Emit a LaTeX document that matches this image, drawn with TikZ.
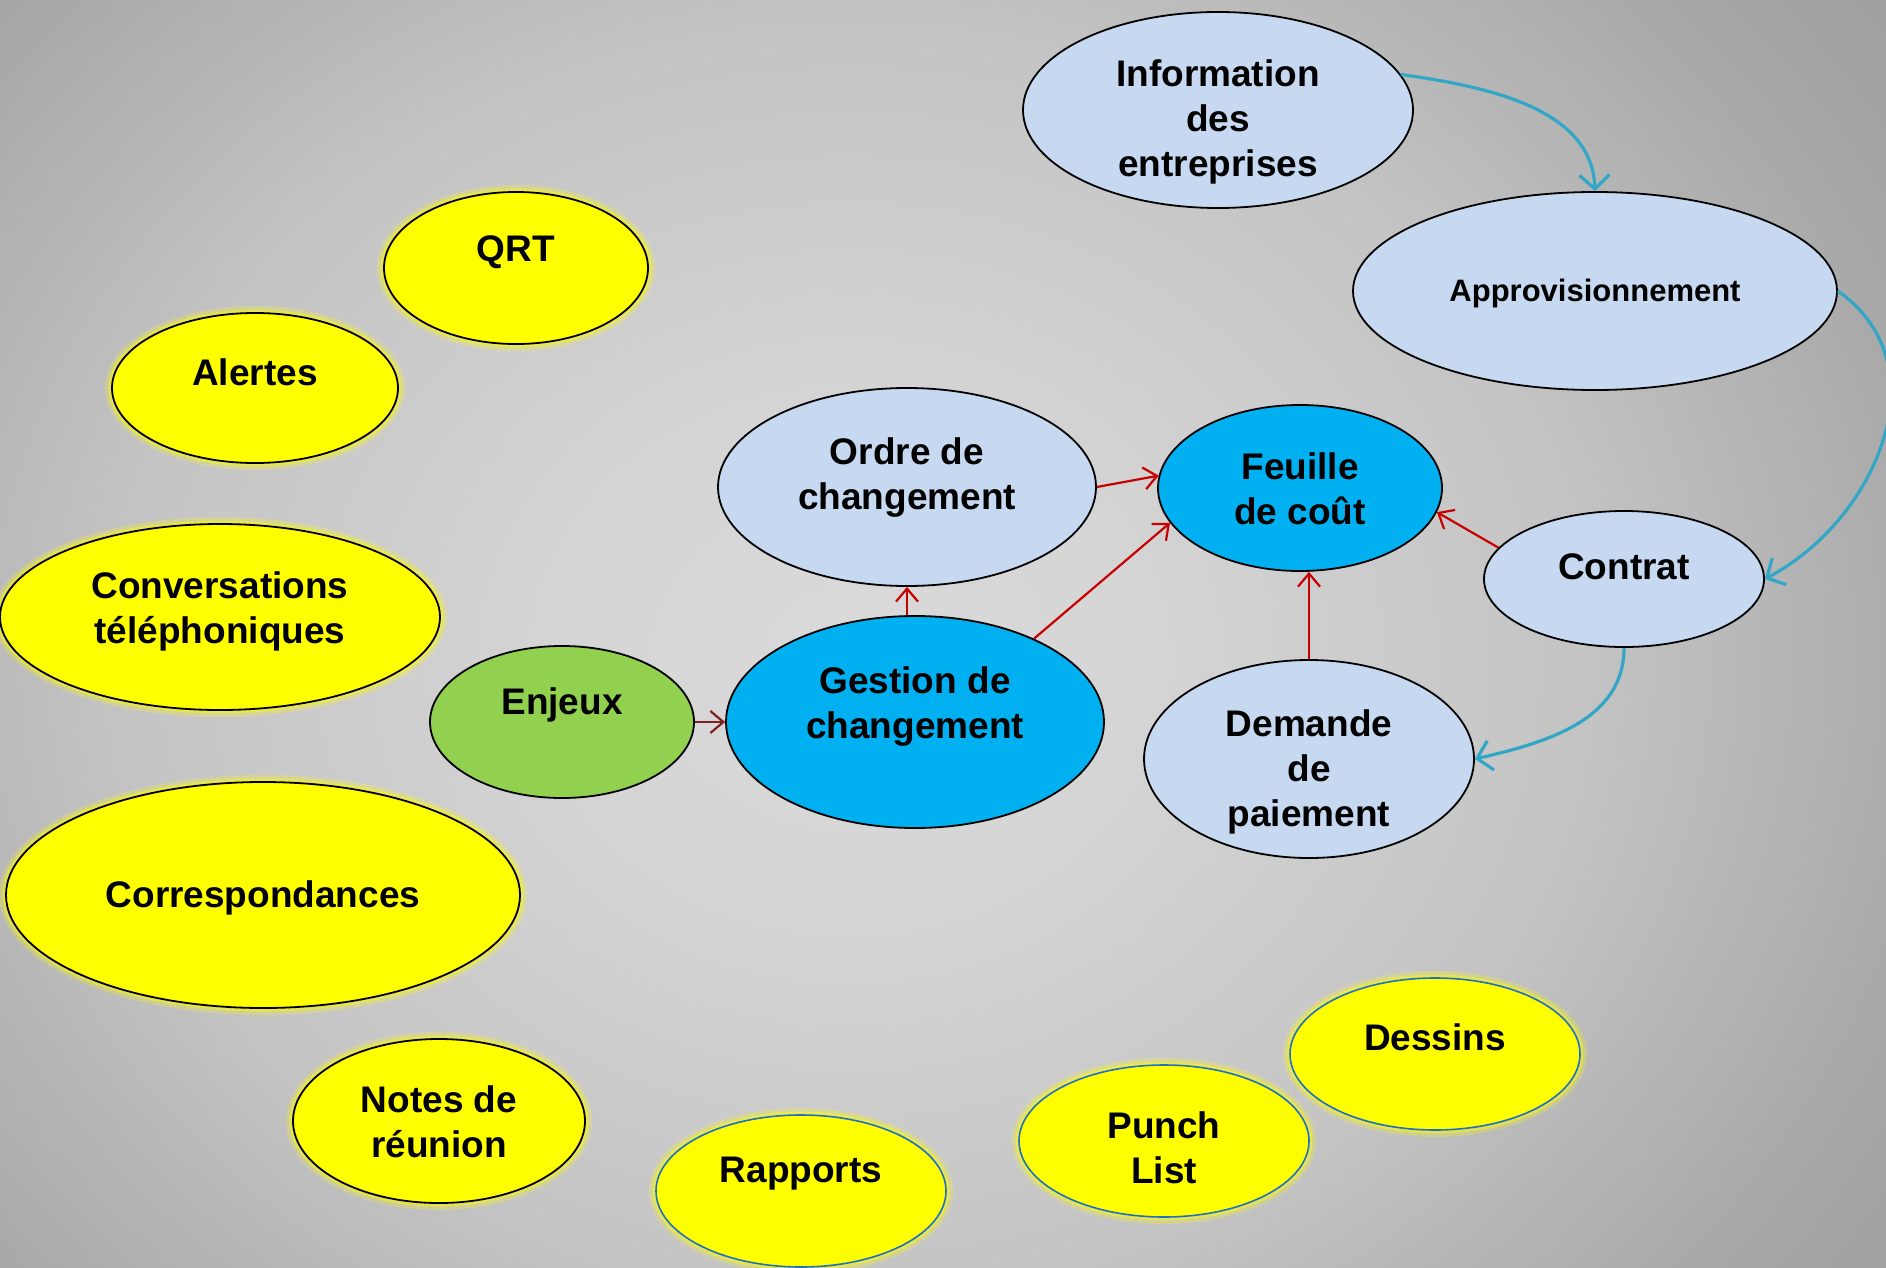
\documentclass[tikz,border=0pt]{standalone}
\usepackage{fontspec}
\setmainfont{Liberation Sans}
\usetikzlibrary{shapes.geometric,arrows.meta}
\definecolor{bgA}{HTML}{DADADA}
\definecolor{bgB}{HTML}{D5D5D5}
\definecolor{bgC}{HTML}{C4C4C4}
\definecolor{bgD}{HTML}{A9A9A9}
\definecolor{bgE}{HTML}{9F9F9F}
\definecolor{bgF}{HTML}{999999}
\definecolor{bgG}{HTML}{959595}
\definecolor{lblue}{HTML}{C6D9F1}
\definecolor{sblue}{HTML}{00B0F0}
\definecolor{lgreen}{HTML}{92D050}
\definecolor{ylw}{HTML}{FFFF00}
\definecolor{redarr}{HTML}{C80000}
\definecolor{maroonarr}{HTML}{7F1F1F}
\definecolor{tealarr}{HTML}{31A6C6}
\definecolor{edgeblue}{HTML}{1F70C1}
\pgfdeclareradialshading{bgshade}{\pgfpoint{0bp}{0bp}}{color(0bp)=(bgA); color(3.5bp)=(bgB); color(9bp)=(bgC); color(13.5bp)=(bgD); color(16bp)=(bgE); color(19.5bp)=(bgF); color(25bp)=(bgG); color(50bp)=(bgG)}
\tikzset{
  ellsize/.style 2 args={minimum width=#1, minimum height=#2},
  ell/.style={ellipse, draw=black, line width=1.8pt, inner sep=0pt},
  lb/.style={ell, fill=lblue},
  sb/.style={ell, fill=sblue},
  gr/.style={ell, fill=lgreen},
  glow/.style={preaction={draw=ylw, draw opacity=0.22, line width=14pt},
               preaction={draw=ylw, draw opacity=0.45, line width=7pt}},
  yl/.style={ell, fill=ylw, glow},
  ylb/.style={ell, fill=ylw, draw=edgeblue, line width=1.6pt, glow},
  txt/.style={align=center, inner sep=0pt, font=\bfseries\fontsize{37}{45}\selectfont},
  redline/.style={draw=redarr, line width=2.2pt, -{Straight Barb[length=13pt,width=22pt]}},
  marline/.style={draw=maroonarr, line width=2.2pt, -{Straight Barb[length=13pt,width=22pt]}},
  tealline/.style={draw=tealarr, line width=3.2pt, -{Straight Barb[length=14pt,width=30pt]}}
}
\begin{document}
\begin{tikzpicture}[x=1pt,y=1pt]
\useasboundingbox (0,0) rectangle (1886,-1268);
\begin{scope}
  \clip (0,0) rectangle (1886,-1268);
  \fill[bgG] (0,0) rectangle (1886,-1268);
  \shade[shading=bgshade] (-1174,1076) rectangle (2874,-2396);
\end{scope}

% nodes
\node[lb, ellsize={390}{196}] (info) at (1218,-110) {};
\node[txt] (infot) at (1218,-122) {Information\\des\\entreprises};

\node[lb, ellsize={484}{198}] (approv) at (1595,-291) {};
\node[txt, font=\bfseries\fontsize{31}{38}\selectfont] (approvt) at (1595,-293) {Approvisionnement};

\node[yl, ellsize={264}{152}] (qrt) at (516,-268) {};
\node[txt] (qrtt) at (516,-252) {QRT};

\node[yl, ellsize={286}{150}] (alertes) at (255,-388) {};
\node[txt] (alertest) at (255,-372) {Alertes};

\node[lb, ellsize={378}{198}] (ordre) at (907,-487) {};
\node[txt] (ordret) at (907,-478) {Ordre de\\changement};

\node[sb, ellsize={284}{166}] (feuille) at (1300,-488) {};
\node[txt] (feuillet) at (1300,-489) {Feuille\\de coût};

\node[lb, ellsize={280}{136}] (contrat) at (1624,-579) {};
\node[txt] (contratt) at (1624,-567) {Contrat};

\node[yl, ellsize={440}{186}] (conv) at (220,-617) {};
\node[txt] (convt) at (220,-611) {Conversations\\téléphoniques};

\node[gr, ellsize={264}{152}] (enjeux) at (562,-722) {};
\node[txt] (enjeuxt) at (562,-705) {Enjeux};

\node[sb, ellsize={378}{212}] (gestion) at (915,-722) {};
\node[txt] (gestiont) at (915,-707) {Gestion de\\changement};

\node[lb, ellsize={330}{198}] (demande) at (1309,-759) {};
\node[txt] (demandet) at (1309,-772) {Demande\\de\\paiement};

\node[yl, ellsize={514}{226}] (corr) at (263,-895) {};
\node[txt] (corrt) at (263,-898) {Correspondances};

\node[yl, ellsize={292}{164}] (notes) at (439,-1121) {};
\node[txt] (notest) at (439,-1122) {Notes de\\réunion};

\node[ylb, ellsize={290}{152}] (rapports) at (801,-1191) {};
\node[txt] (rapportst) at (801,-1174) {Rapports};

\node[ylb, ellsize={290}{152}] (punch) at (1164,-1141) {};
\node[txt] (puncht) at (1164,-1148) {Punch\\List};

\node[ylb, ellsize={290}{152}] (dessins) at (1435,-1054) {};
\node[txt] (dessinst) at (1435,-1037) {Dessins};

% red connectors
\draw[marline] (enjeux.east) -- (gestion.west);
\draw[redline] (ordre.south |- gestion.north) -- (ordre.south);
\draw[redline] (gestion.35) -- (feuille.195);
\draw[redline] (ordre.east) -- (feuille.175);
\draw[redline] (demande.north) -- (demande.north |- feuille.south);
\draw[redline] (contrat.166) -- (feuille.-10);

% teal connectors
\draw[tealline] (info.11) to[out=-8,in=92,looseness=0.95] (approv.north);
\draw[tealline] (approv.east) to[out=-35,in=28,looseness=1.1] (contrat.east);
\draw[tealline] (contrat.south) to[out=-90,in=13] (demande.east);
\end{tikzpicture}
\end{document}
